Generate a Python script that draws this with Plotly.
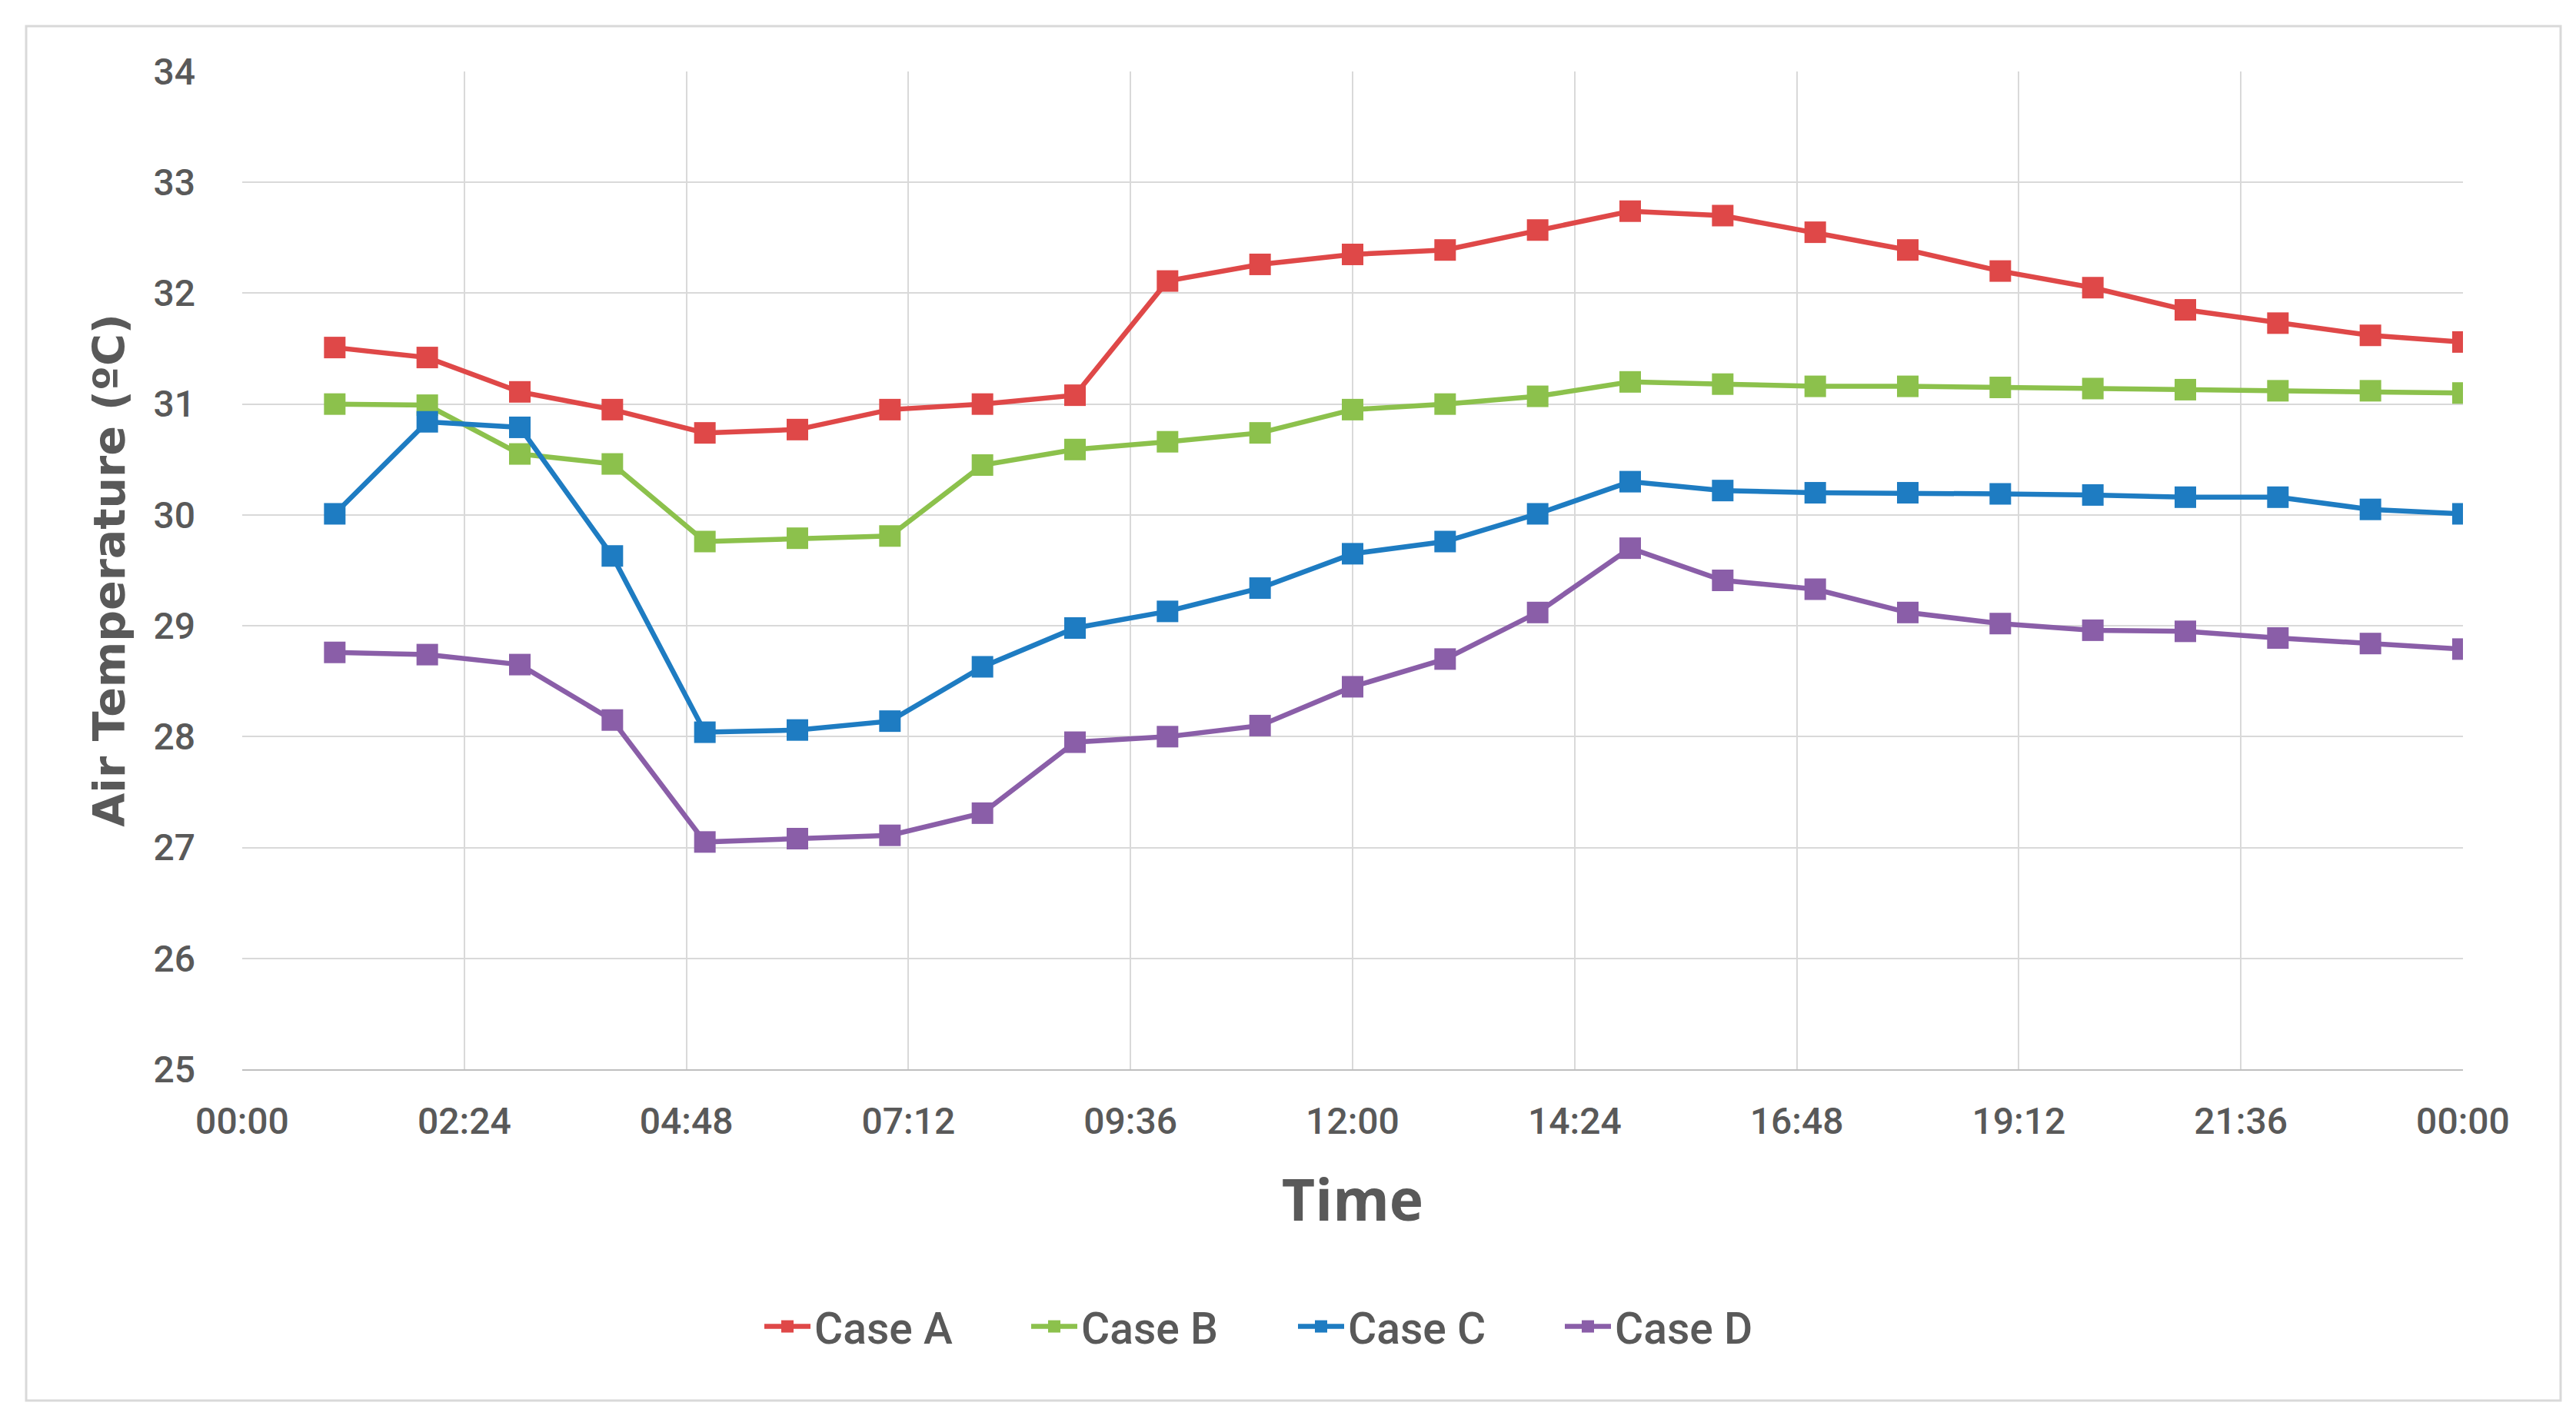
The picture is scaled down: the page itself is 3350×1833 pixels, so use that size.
import plotly.graph_objects as go

# ---- data ----
hours = list(range(1, 25))
case_a = [31.51, 31.42, 31.11, 30.95, 30.74, 30.77, 30.95, 31.00, 31.08, 32.11, 32.26, 32.35,
          32.39, 32.57, 32.74, 32.70, 32.55, 32.39, 32.20, 32.05, 31.85, 31.73, 31.62, 31.56]
case_b = [31.00, 30.99, 30.55, 30.46, 29.76, 29.79, 29.81, 30.45, 30.59, 30.66, 30.74, 30.95,
          31.00, 31.07, 31.20, 31.18, 31.16, 31.16, 31.15, 31.14, 31.13, 31.12, 31.12, 31.10]
case_c = [30.01, 30.84, 30.79, 29.63, 28.04, 28.06, 28.14, 28.63, 28.98, 29.13, 29.34, 29.65,
          29.76, 30.01, 30.30, 30.22, 30.20, 30.20, 30.19, 30.18, 30.16, 30.16, 30.05, 30.01]
case_d = [28.76, 28.74, 28.65, 28.15, 27.05, 27.08, 27.11, 27.31, 27.95, 28.00, 28.10, 28.45,
          28.70, 29.12, 29.70, 29.41, 29.33, 29.12, 29.02, 28.96, 28.95, 28.89, 28.84, 28.79]
series_names = ["Case A", "Case B", "Case C", "Case D"]
tick_vals = [0, 2.4, 4.8, 7.2, 9.6, 12, 14.4, 16.8, 19.2, 21.6, 24]
tick_text = ["00:00", "02:24", "04:48", "07:12", "09:36", "12:00", "14:24", "16:48", "19:12", "21:36", "00:00"]

colors = ["#DF4848", "#8CC14C", "#1E7CC2", "#8A5EA8"]

W, H = 3350, 1833
L, R, T, B = 307, 3195, 85, 1383  # plot area in px

fig = go.Figure()
for name, vals, col in zip(series_names, [case_a, case_b, case_c, case_d], colors):
    fig.add_trace(go.Scatter(
        x=hours, y=vals, name=name, mode="lines+markers",
        line=dict(color=col, width=6.5),
        marker=dict(symbol="square", size=28, color=col),
    ))

tick_font = dict(family="Roboto, sans-serif", size=48, color="#595959", weight=500)

fig.update_layout(
    width=W, height=H,
    paper_bgcolor="white", plot_bgcolor="white",
    margin=dict(l=L, r=W - R, t=T, b=H - B, autoexpand=False),
    showlegend=True,
    legend=dict(
        orientation="h", x=((W / 2) - L) / (R - L), xanchor="center",
        y=-(1718 - B) / (B - T), yanchor="middle",
        font=dict(family="Roboto, sans-serif", size=57, color="#595959", weight=500),
        entrywidth=272, itemwidth=60,
    ),
    xaxis=dict(
        range=[0, 24], tickmode="array", tickvals=tick_vals, ticktext=tick_text,
        showgrid=True, gridcolor="#D9D9D9", gridwidth=2,
        showline=True, linecolor="#BFBFBF", linewidth=2,
        zeroline=False, ticks="", ticklabelstandoff=24,
        tickfont=tick_font,
        title=dict(text="<b>Time</b>", font=dict(family="Open Sans, sans-serif", size=75, color="#595959"), standoff=50),
        automargin=False,
    ),
    yaxis=dict(
        range=[25, 34], dtick=1,
        showgrid=True, gridcolor="#D9D9D9", gridwidth=2,
        showline=False, zeroline=False, ticks="", ticklabelstandoff=60,
        tickfont=tick_font,
        title=dict(text="<b>Air Temperature (ºC)</b>", font=dict(family="DejaVu Sans, Verdana, sans-serif", size=57, color="#595959"), standoff=18),
        automargin=False,
    ),
)

# outer chart border
bx0, by0, bx1, by1 = 26, 26, 3322, 1814
fig.add_shape(type="rect", xref="paper", yref="paper",
              x0=(bx0 - L) / (R - L), x1=(bx1 - L) / (R - L),
              y0=-(by1 - B) / (B - T), y1=1 + (T - by0) / (B - T),
              line=dict(color="#D9D9D9", width=3), fillcolor="rgba(0,0,0,0)", layer="below")

fig.write_html("out.html")
